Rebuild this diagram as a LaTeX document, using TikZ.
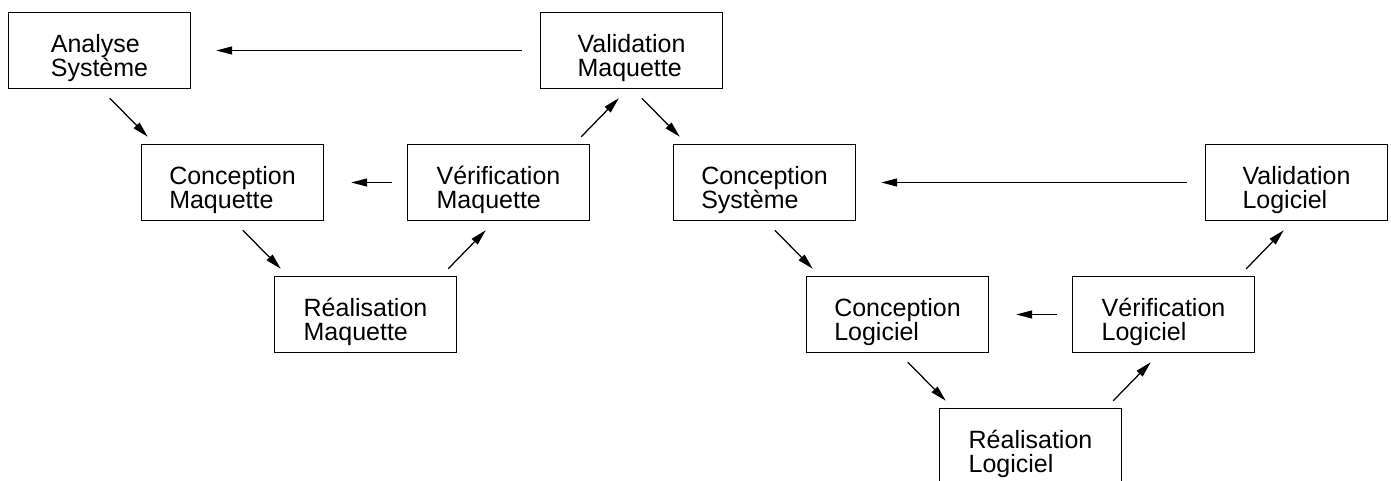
\documentclass[tikz,border=0pt]{standalone}
\usepackage{fontspec}
\setmainfont{Liberation Sans}
\usetikzlibrary{arrows.meta}

\begin{document}
\begin{tikzpicture}[x=1pt,y=-1pt,
  stage/.style={draw, line width=1.4pt, minimum width=182pt, minimum height=76pt, inner sep=0pt},
  caption/.style={align=left, inner sep=0pt, font=\fontsize{25}{24.5}\selectfont},
  flow/.style={line width=1.25pt, -{Triangle[length=16pt,width=8pt]}}]

\useasboundingbox (0,0) rectangle (1391,481);

% boxes of the two V cycles
\node[stage] (as)  at (99.5,50.5)   {};
\node[stage] (vm)  at (631.5,50.5)  {};
\node[stage] (cm)  at (232.5,182.5) {};
\node[stage] (vem) at (498.5,182.5) {};
\node[stage] (rm)  at (365.5,314.5) {};
\node[stage] (cs)  at (764.5,182.5) {};
\node[stage] (vl)  at (1296.5,182.5) {};
\node[stage] (cl)  at (897.5,314.5) {};
\node[stage] (vel) at (1163.5,314.5) {};
\node[stage] (rl)  at (1030.5,446.5) {};

% box texts
\node[caption] (as-t)  at ([yshift=-7.5pt]as.center)  {Analyse\\Système};
\node[caption] (vm-t)  at ([yshift=-7.5pt]vm.center)  {Validation\\Maquette};
\node[caption] (cm-t)  at ([yshift=-7.5pt]cm.center)  {Conception\\Maquette};
\node[caption] (vem-t) at ([yshift=-7.5pt]vem.center) {Vérification\\Maquette};
\node[caption] (rm-t)  at ([yshift=-7.5pt]rm.center)  {Réalisation\\Maquette};
\node[caption] (cs-t)  at ([yshift=-7.5pt]cs.center)  {Conception\\Système};
\node[caption] (vl-t)  at ([yshift=-7.5pt]vl.center)  {Validation\\Logiciel};
\node[caption] (cl-t)  at ([yshift=-7.5pt]cl.center)  {Conception\\Logiciel};
\node[caption] (vel-t) at ([yshift=-7.5pt]vel.center) {Vérification\\Logiciel};
\node[caption] (rl-t)  at ([yshift=-7.5pt]rl.center)  {Réalisation\\Logiciel};

% descending arrows
\draw[flow] ([shift={(102,9)}]as.south west) -- ([shift={(7,-7)}]cm.north west);
\draw[flow] ([shift={(102,9)}]cm.south west) -- ([shift={(7,-7)}]rm.north west);
\draw[flow] ([shift={(102,9)}]vm.south west) -- ([shift={(7,-7)}]cs.north west);
\draw[flow] ([shift={(102,9)}]cs.south west) -- ([shift={(7,-7)}]cl.north west);
\draw[flow] ([shift={(102,9)}]cl.south west) -- ([shift={(7,-7)}]rl.north west);

% ascending arrows
\draw[flow] ([shift={(-9,-7)}]rm.north east) -- ([shift={(79,9)}]vem.south west);
\draw[flow] ([shift={(-9,-7)}]vem.north east) -- ([shift={(79,9)}]vm.south west);
\draw[flow] ([shift={(-9,-7)}]rl.north east) -- ([shift={(79,9)}]vel.south west);
\draw[flow] ([shift={(-9,-7)}]vel.north east) -- ([shift={(79,9)}]vl.south west);

% return arrows
\draw[flow] ([xshift=-15pt]vem.west) -- ([xshift=27pt]cm.east);
\draw[flow] ([xshift=-15pt]vel.west) -- ([xshift=27pt]cl.east);
\draw[flow] ([xshift=-18pt]vm.west) -- ([xshift=25pt]as.east);
\draw[flow] ([xshift=-18pt]vl.west) -- ([xshift=25pt]cs.east);

\end{tikzpicture}
\end{document}
